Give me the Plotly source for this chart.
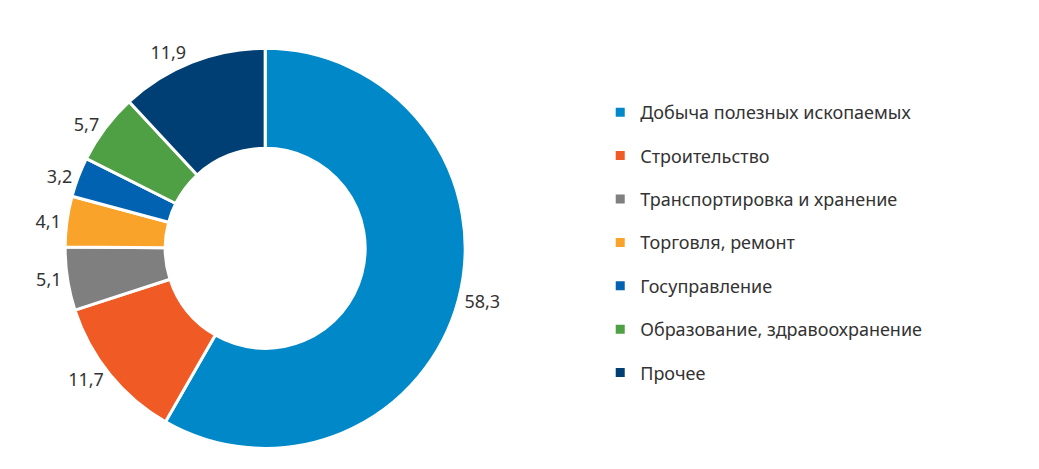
import plotly.graph_objects as go

# Structure shares, %
labels = ['Добыча полезных ископаемых', 'Строительство', 'Транспортировка и хранение',
          'Торговля, ремонт', 'Госуправление', 'Образование, здравоохранение', 'Прочее']
values = [58.3, 11.7, 5.1, 4.1, 3.2, 5.7, 11.9]
text_labels = ['58,3', '11,7', '5,1', '4,1', '3,2', '5,7', '11,9']
colors = ['#0088c9', '#f05a24', '#7f7f7f', '#f9a32b', '#0062b1', '#4f9f45', '#003f73']

fig = go.Figure()
fig.add_trace(go.Pie(
    labels=labels,
    values=values,
    text=text_labels,
    textinfo='text',
    textposition='outside',
    textfont=dict(size=18, color='#333333'),
    hole=0.5,
    sort=False,
    direction='clockwise',
    rotation=0,
    showlegend=False,
    marker=dict(colors=colors, line=dict(color='white', width=3)),
    domain=dict(x=[0.055, 0.44], y=[0.06, 0.915]),
))

# legend entries as dummy traces so the row spacing can be widened
for name, c in zip(labels, colors):
    fig.add_trace(go.Scatter(
        x=[None], y=[None], mode='markers', name=name, legendgroup=name,
        marker=dict(symbol='square', size=9, color=c),
    ))

fig.update_layout(
    width=1039,
    height=469,
    margin=dict(l=0, r=0, t=0, b=0),
    paper_bgcolor='white',
    plot_bgcolor='white',
    xaxis=dict(visible=False),
    yaxis=dict(visible=False),
    font=dict(family='Noto Sans', size=18, color='#333333'),
    legend=dict(x=0.57, y=0.5, yanchor='middle', xanchor='left',
                font=dict(size=18), tracegroupgap=17, itemwidth=30),
)

fig.write_html('out.html')
